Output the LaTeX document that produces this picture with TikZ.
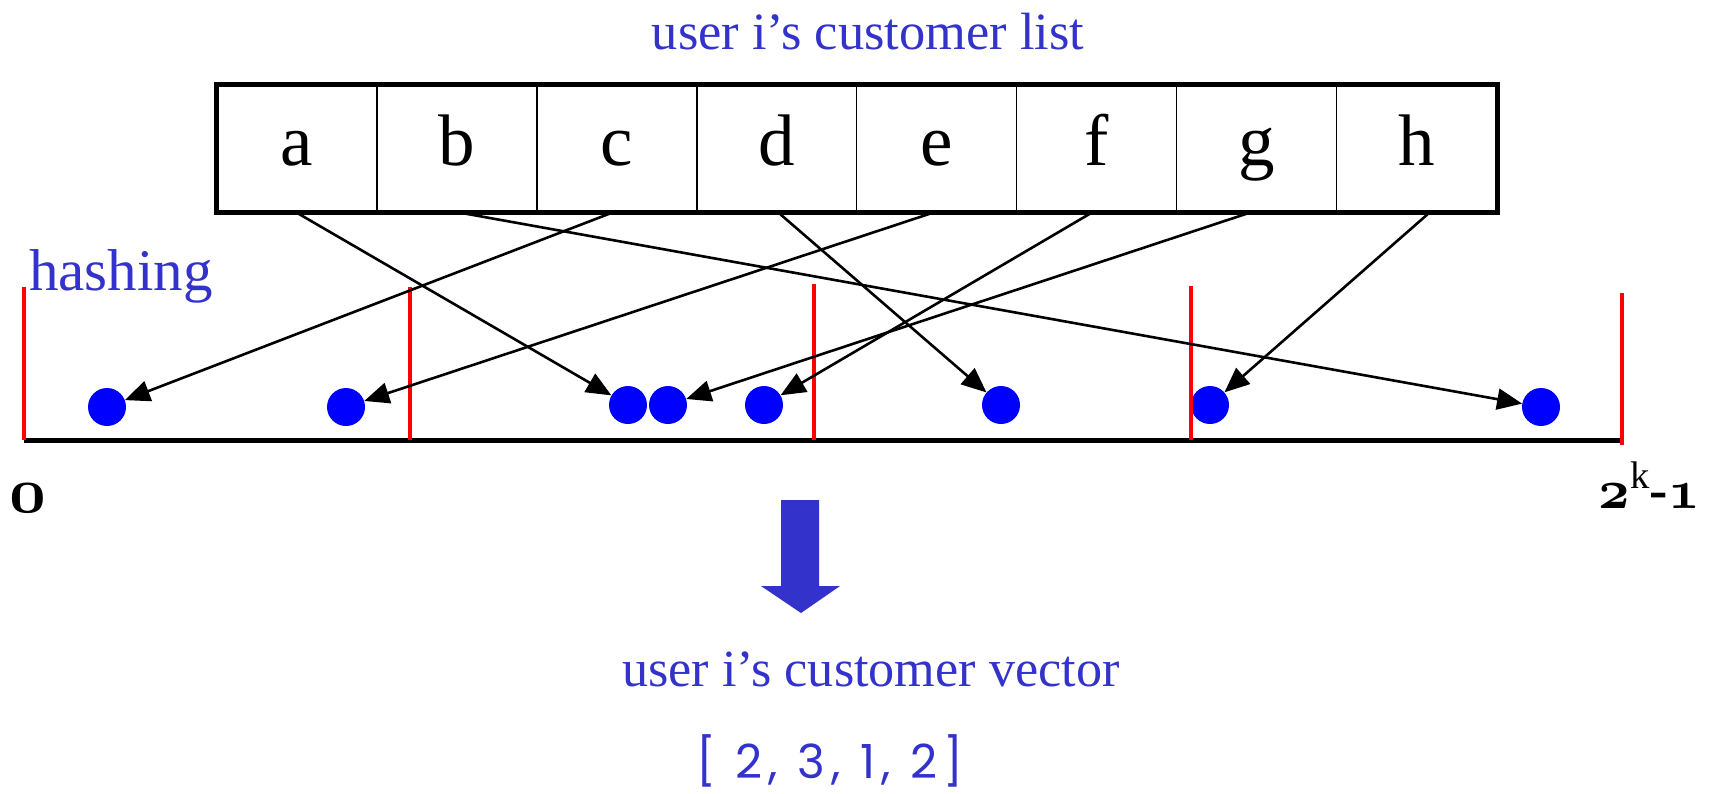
\documentclass[tikz,border=0pt]{standalone}
\usepackage{fix-cm}
\usepackage{fontspec}
\setmainfont{Liberation Serif}
\newfontfamily\vecfont[LetterSpace=14]{Poppins}
\usetikzlibrary{arrows.meta}
\definecolor{ublue}{RGB}{51,51,204}
\definecolor{dotblue}{RGB}{0,0,255}
\definecolor{tickred}{RGB}{255,0,0}
\newcommand\oldnum[1]{{\usefont{OML}{cmm}{b}{it}#1}}
\tikzset{
  cell/.style={draw=black, line width=1.6pt, minimum width=159.9pt, minimum height=127pt,
    inner sep=0pt, text height=50pt, text depth=17pt, font=\fontsize{73}{80}\selectfont},
  dot/.style={circle, fill=dotblue, minimum size=38pt, inner sep=0pt},
  hasharrow/.style={line width=2.6pt, -{Triangle[length=25pt, width=21pt]}},
  bluetext/.style={text=ublue, inner sep=0pt, anchor=base},
  tick/.style={draw=tickred, line width=4pt},
}
\begin{document}
\begin{tikzpicture}[x=1pt, y=-1pt]
\useasboundingbox (0,0) rectangle (1715,793);

% titles
\node[bluetext, font=\fontsize{52.4}{60}\selectfont] (title) at (868,49) {user i’s customer list};
\node[bluetext, anchor=base west, font=\fontsize{59}{66}\selectfont] (hashing) at (29,290) {hashing};

% the customer list cells
\foreach \n [count=\i from 0] in {a,b,c,d,e,f,g,h}
  \node[cell] (\n) at ({217+79.95+159.9*\i},148.5) {\n};
\draw[line width=5pt] (a.north west) rectangle (h.south east);

% hashed positions
\node[dot] (p1) at (107,407) {};
\node[dot] (p2) at (346,407) {};
\node[dot] (p3) at (628,405) {};
\node[dot] (p4) at (668,405) {};
\node[dot] (p5) at (764,405) {};
\node[dot] (p6) at (1001,405) {};
\node[dot] (p7) at (1210,405) {};
\node[dot] (p8) at (1541,407) {};

% hash space axis and bucket boundaries
\draw[line width=5pt] (24,440) -- (1620,440);
\draw[tick] (24,287) -- (24,440);
\draw[tick] (410,287) -- (410,440);
\draw[tick] (814,284) -- (814,440);
\draw[tick] (1191,286) -- (1191,440);
\draw[tick] (1622,293) -- (1622,445);

% hashing arrows
\draw[hasharrow] (a.south) -- (p3);
\draw[hasharrow] ([xshift=4pt]b.south) -- (p8);
\draw[hasharrow] ([xshift=-5pt]c.south) -- (p1);
\draw[hasharrow] ([xshift=2pt]d.south) -- (p6);
\draw[hasharrow] ([xshift=-4pt]e.south) -- (p2);
\draw[hasharrow] ([xshift=-5pt]f.south) -- (p5);
\draw[hasharrow] ([xshift=-7pt]g.south) -- (p4);
\draw[hasharrow] ([xshift=13pt]h.south) -- (p7);

% axis end labels
\node[anchor=base, inner sep=0pt, font=\fontsize{64}{70}\selectfont] (zero) at (28,512) {\oldnum{0}};
\node[anchor=base east, inner sep=0pt, font=\fontsize{55}{62}\selectfont\bfseries] (top) at (1700,508)
  {\oldnum{2}\textsuperscript{\mdseries k}-\oldnum{1}};

% conversion arrow
\fill[ublue] (781,500) -- (819,500) -- (819,586) -- (840,586) -- (801,613) -- (761,586) -- (781,586) -- cycle;

% result
\node[bluetext, font=\fontsize{52.2}{60}\selectfont] (vtitle) at (871,686) {user i’s customer vector};
\node[bluetext, font=\vecfont\fontsize{47}{54}\selectfont] (vec) at (830,778) {[ 2, 3, 1, 2]};
\end{tikzpicture}
\end{document}
